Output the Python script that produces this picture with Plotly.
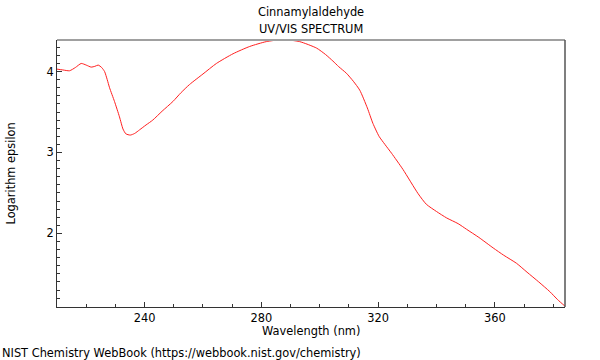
import plotly.graph_objects as go

wavelength_nm = [210, 212, 214.3, 216.3, 218.3, 220, 221.7, 223, 224.1, 225.3, 226.3, 227.2,
                 228, 229.7, 231.4, 232.6, 233.6, 235.1, 236.6, 238.3, 240.5, 242.8, 246,
                 249.7, 252.5, 255.4, 260, 264.6, 270.3, 276, 281.7, 287.4, 293.1, 298.9,
                 302, 304.5, 306.5, 309.1, 311.5, 313.7, 316.3, 318.2, 320.3, 322.3, 324.6,
                 328.5, 333.7, 336.5, 340, 343.5, 347.4, 350.3, 354.5, 359.4, 363, 367.4,
                 371, 375, 378.8, 381.5, 384]
log_epsilon = [4.03, 4.02, 4.01, 4.05, 4.10, 4.08, 4.055, 4.065, 4.08, 4.05, 4.00, 3.90,
               3.80, 3.63, 3.44, 3.29, 3.23, 3.215, 3.235, 3.28, 3.34, 3.40, 3.51,
               3.63, 3.74, 3.84, 3.97, 4.10, 4.22, 4.31, 4.37, 4.395, 4.37, 4.29,
               4.21, 4.13, 4.06, 3.98, 3.88, 3.77, 3.55, 3.36, 3.20, 3.10, 2.99,
               2.79, 2.49, 2.36, 2.27, 2.19, 2.12, 2.05, 1.95, 1.82, 1.73, 1.63,
               1.52, 1.40, 1.28, 1.18, 1.10]

title_lines = ["Cinnamylaldehyde", "UV/VIS SPECTRUM"]
x_title = "Wavelength (nm)"
y_title = "Logarithm epsilon"
credit = "NIST Chemistry WebBook (https://webbook.nist.gov/chemistry)"

FONT = "DejaVu Sans"
FS = 11.4

fig = go.Figure()
fig.add_trace(go.Scatter(x=wavelength_nm, y=log_epsilon, mode="lines",
                         line=dict(color="#ff2020", width=1, shape="spline", smoothing=0.6),
                         hoverinfo="x+y", showlegend=False))

axis_common = dict(showgrid=False, zeroline=False, showline=True, linecolor="#333333",
                   linewidth=1, ticks="inside", ticklen=5, tickcolor="#333333",
                   tickfont=dict(family=FONT, size=FS, color="black"))

fig.update_xaxes(range=[210, 384], tick0=0, dtick=40,
                 minor=dict(dtick=10, ticks="inside", ticklen=3, tickcolor="#333333"),
                 **axis_common)
fig.update_yaxes(range=[1.09, 4.39], tick0=0, dtick=1,
                 minor=dict(dtick=0.1, ticks="inside", ticklen=3, tickcolor="#333333"),
                 **axis_common)

fig.add_shape(type="line", xref="paper", yref="paper", x0=0, x1=1, y0=1, y1=1,
              line=dict(color="#a0a0a0", width=2))
fig.add_shape(type="line", xref="paper", yref="paper", x0=1, x1=1, y0=0, y1=1,
              line=dict(color="#555555", width=1.5))

ann_font = dict(family=FONT, size=FS, color="black")
fig.add_annotation(text=title_lines[0], xref="paper", yref="paper", x=0.5, y=1,
                   yanchor="middle", yshift=28, showarrow=False, font=ann_font)
fig.add_annotation(text=title_lines[1], xref="paper", yref="paper", x=0.5, y=1,
                   yanchor="middle", yshift=11, showarrow=False, font=ann_font)
fig.add_annotation(text=x_title, xref="paper", yref="paper", x=0.5, y=0,
                   yanchor="middle", yshift=-24, showarrow=False, font=ann_font)
fig.add_annotation(text=y_title, xref="paper", yref="paper", x=0, y=0.5,
                   xanchor="center", xshift=-47, textangle=-90, showarrow=False, font=ann_font)
fig.add_annotation(text=credit, xref="paper", yref="paper", x=0, y=0,
                   xanchor="left", yanchor="middle", xshift=-57, yshift=-46,
                   showarrow=False, font=ann_font)

fig.update_layout(width=600, height=360, margin=dict(l=57, r=35, t=40, b=53),
                  paper_bgcolor="white", plot_bgcolor="white",
                  font=dict(family=FONT, size=FS, color="black"))

fig.write_html("out.html", config={"displayModeBar": False},
               post_script="document.body.style.margin='0px';document.body.style.padding='0px';")
